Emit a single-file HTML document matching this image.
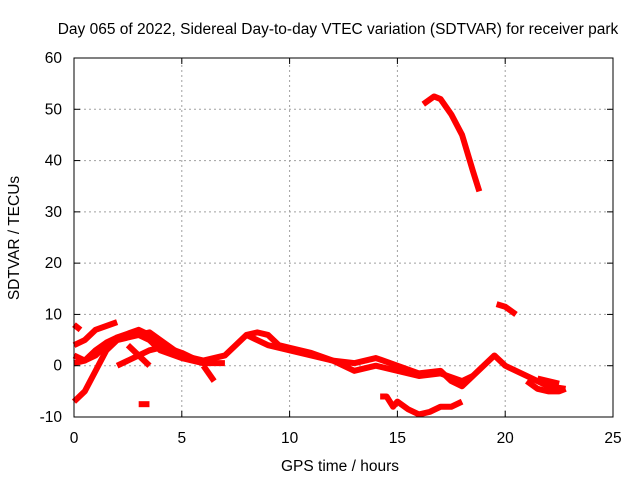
<!DOCTYPE html>
<html><head><meta charset="utf-8"><style>
body{margin:0;background:#fff;}
svg text{font-family:"Liberation Sans",sans-serif;font-size:15.5px;fill:#000;}
</style></head><body>
<svg id="chart" width="640" height="480">
<text x="338" y="34" text-anchor="middle">Day 065 of 2022, Sidereal Day-to-day VTEC variation (SDTVAR) for receiver park</text>
<g id="grid"></g>
<g id="series"></g>
<rect x="74" y="58" width="539" height="359" fill="none" stroke="#000" stroke-width="1"/>
<g id="ticks"></g>
<text x="340" y="471" text-anchor="middle">GPS time / hours</text>
<text transform="translate(19,238) rotate(-90)" text-anchor="middle">SDTVAR / TECUs</text>
</svg>
<script>
const xTicks=[0,5,10,15,20,25];
const yTicks=[-10,0,10,20,30,40,50,60];
const trace1=[[0,-7],[0.5,-5],[1,-1],[1.5,3],[2,5],[3,6],[3.5,6.5],[4,5],[5,2],[6,1],[7,2],[7.5,4],[8,6],[8.5,6.5],[9,6],[9.5,4],[10,3.5],[11,2.5],[12,1],[13,0.5],[14,1.5],[15,0],[16,-1.5],[17,-1],[17.5,-3],[18,-4],[18.5,-2],[19,0],[19.5,2],[20,0],[21,-2],[22,-4],[22.8,-4.5]];
const trace2=[[0,0.5],[0.5,1],[1,3],[1.5,4.5],[2,5.5],[2.5,6],[3,6],[3.5,5],[4,3],[5,1.5],[6,0.5],[7,0.5]];
const trace3=[[0,4],[0.5,5],[1,7],[2,8.5]];
const trace4=[[0,8],[0.3,7]];
const trace5=[[0,2],[0.5,1],[1,2],[1.5,4],[2,5.5],[3,7],[3.5,6],[4,4],[5,2.5],[6,0.5]];
const trace6=[[2,0],[2.5,1],[3,2],[3.5,3],[4,3.5]];
const trace7=[[2.5,4],[3.5,0]];
const trace8=[[6,0],[6.5,-3]];
const trace9=[[3,-7.5],[3.5,-7.5]];
const trace10=[[8,6],[9,4],[10,3],[11,2],[12,1],[13,-1],[14,0],[15,-1],[16,-2],[17,-1.5],[18,-3],[18.5,-2]];
const trace11=[[14.2,-6],[14.5,-6],[14.8,-8],[15,-7],[15.5,-8.5],[16,-9.5],[16.5,-9],[17,-8],[17.5,-8],[18,-7]];
const trace12=[[16.2,51],[16.7,52.5],[17,52],[17.5,49],[18,45],[18.5,38],[18.8,34]];
const trace13=[[19.6,12],[20,11.5],[20.5,10]];
const trace14=[[21,-3],[21.5,-4.5],[22,-5],[22.5,-5],[22.8,-4.5]];
const trace15=[[21.5,-2.5],[22.5,-3.5]];
const traces=[trace1,trace2,trace3,trace4,trace5,trace6,trace7,trace8,trace9,trace10,trace11,trace12,trace13,trace14,trace15];
const X0=74,X1=613,Y0=417,Y1=58;
function sx(v){return X0+(v-0)/(25-0)*(X1-X0);}
function sy(v){return Y0-(v+10)/(70)*(Y0-Y1);}
const NS='http://www.w3.org/2000/svg';
const grid=document.getElementById('grid'),ticks=document.getElementById('ticks'),series=document.getElementById('series');
function mk(tag,attrs,parent){const e=document.createElementNS(NS,tag);for(const k in attrs)e.setAttribute(k,attrs[k]);parent.appendChild(e);return e;}
xTicks.forEach(t=>{const x=sx(t);
 if(t>0&&t<25){const g=mk('line',{x1:x,x2:x,y1:Y0,y2:Y1,stroke:'#a0a0a0','stroke-dasharray':'2,3'},grid);
 
 }
 mk('line',{x1:x,x2:x,y1:Y0,y2:Y0-6,stroke:'#000'},ticks);mk('line',{x1:x,x2:x,y1:Y1,y2:Y1+6,stroke:'#000'},ticks);
 const l=mk('text',{x:x,y:Y0+26,'text-anchor':'middle'},ticks);l.textContent=t;
 
 });
yTicks.forEach(t=>{const y=sy(t);
 if(t>-10&&t<60){const g=mk('line',{x1:X0,x2:X1,y1:y,y2:y,stroke:'#a0a0a0','stroke-dasharray':'2,3'},grid);
 
 }
 mk('line',{x1:X0,x2:X0+6,y1:y,y2:y,stroke:'#000'},ticks);mk('line',{x1:X1,x2:X1-6,y1:y,y2:y,stroke:'#000'},ticks);
 const l=mk('text',{x:X0-12,y:y+5,'text-anchor':'end'},ticks);l.textContent=t;
 
 });
traces.forEach(tr=>{const p=mk('polyline',{points:tr.map(d=>sx(d[0])+','+sy(d[1])).join(' '),fill:'none',stroke:'#ff0000','stroke-width':6,'stroke-linejoin':'round'},series);
 
 });
</script>
</body></html>
